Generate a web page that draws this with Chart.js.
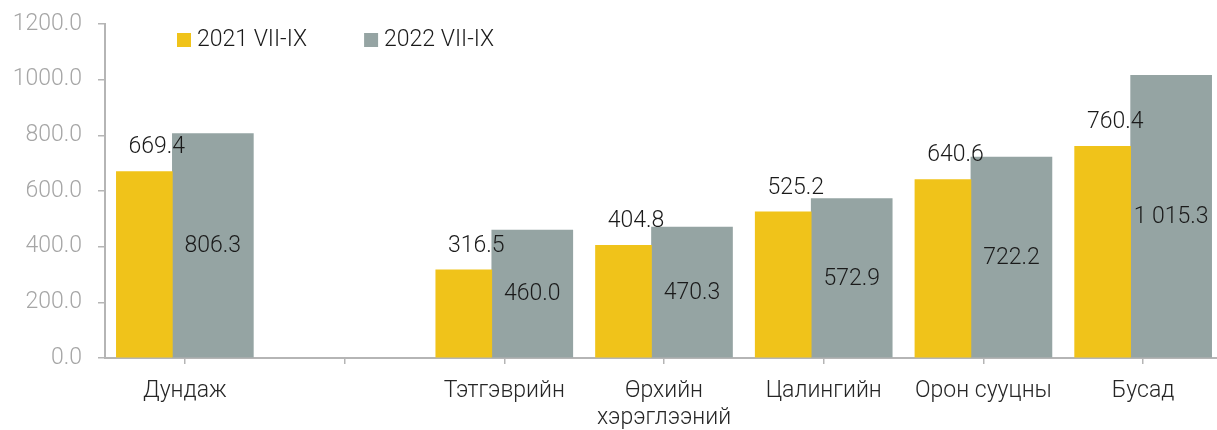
<!DOCTYPE html>
<html>
<head>
<meta charset="utf-8">
<script src="https://cdn.jsdelivr.net/npm/chart.js@4"></script>
<style>
  html, body { margin: 0; padding: 0; background: #fff; overflow: hidden; }
  #wrap { width: 1226px; height: 430px; }
</style>
</head>
<body>
<div id="wrap"><canvas id="myChart" width="1226" height="430"></canvas></div>
<script>
"use strict";
// Data
const categories = ["Дундаж", "", "Тэтгэврийн", ["Өрхийн", "хэрэглээний"], "Цалингийн", "Орон сууцны", "Бусад"];
const seriesNames = ["2021 VII-IX", "2022 VII-IX"];
const values2021 = [669.4, null, 316.5, 404.8, 525.2, 640.6, 760.4];
const values2022 = [806.3, null, 460.0, 470.3, 572.9, 722.2, 1015.3];
const yTicks = [0, 200, 400, 600, 800, 1000, 1200];

const yellow = "#f0c31a";
const grey = "#95a4a3";
const axisColor = "#b5b5b5";
const font = "Roboto, 'Noto Sans', sans-serif";
const textFont = "300 23px " + font;

function fmt(v) {
  const parts = v.toFixed(1).split(".");
  parts[0] = parts[0].replace(/\B(?=(\d{3})+(?!\d))/g, " ");
  return parts.join(".");
}

// put the two bars of a group side by side, centred on the category tick
const groupBars = {
  id: "groupBars",
  afterDatasetsUpdate(chart) {
    const a = chart.getDatasetMeta(0).data;
    const b = chart.getDatasetMeta(1).data;
    const x = chart.scales.x;
    a.forEach(function (el, i) {
      const g = b[i];
      const c = x.getPixelForValue(i);
      const total = el.width + g.width;
      el.x = c - total / 2 + el.width / 2;
      g.x = c - total / 2 + el.width + g.width / 2;
    });
  },
};

const valueLabels = {
  id: "valueLabels",
  afterDatasetsDraw(chart) {
    const ctx = chart.ctx;
    const a = chart.getDatasetMeta(0).data;
    const b = chart.getDatasetMeta(1).data;
    ctx.save();
    ctx.font = textFont;
    ctx.fillStyle = "#1a1a1a";
    ctx.textAlign = "center";
    ctx.textBaseline = "middle";
    a.forEach(function (el, i) {
      if (values2021[i] == null) return;
      const g = b[i];
      ctx.fillText(fmt(values2021[i]), el.x + (g.width - el.width) / 2, el.y - 24);
      ctx.fillText(fmt(values2022[i]), g.x, (g.y + g.base) / 2 + 1);
    });
    ctx.restore();
  },
};

const legendDraw = {
  id: "legendDraw",
  afterDraw(chart) {
    const ctx = chart.ctx;
    ctx.save();
    ctx.font = textFont;
    ctx.textBaseline = "middle";
    let x = 177;
    const y = 40;
    chart.data.datasets.forEach(function (ds) {
      ctx.fillStyle = ds.backgroundColor;
      ctx.fillRect(x, y - 7, 14, 14);
      ctx.fillStyle = "#1a1a1a";
      ctx.textAlign = "left";
      ctx.fillText(ds.label, x + 20, y);
      x += 20 + ctx.measureText(ds.label).width + 57;
    });
    ctx.restore();
  },
};

const ctx = document.getElementById("myChart").getContext("2d");
const myChart = new Chart(ctx, {
  type: "bar",
  data: {
    labels: categories,
    datasets: [
      {
        label: seriesNames[0],
        data: values2021,
        backgroundColor: yellow,
        barThickness: 56,
      },
      {
        label: seriesNames[1],
        data: values2022,
        backgroundColor: grey,
        barThickness: 81,
      },
    ],
  },
  options: {
    responsive: false,
    animation: false,
    layout: { padding: { top: 24, right: 3, left: 0, bottom: 0 } },
    plugins: {
      legend: { display: false },
      tooltip: { enabled: false },
    },
    scales: {
      x: {
        grid: {
          offset: false,
          drawOnChartArea: false,
          drawTicks: true,
          tickLength: 6,
          color: axisColor,
          lineWidth: 1.5,
        },
        border: { display: true, color: axisColor, width: 2 },
        ticks: {
          color: "#262626",
          font: { family: font, size: 23, weight: 300, lineHeight: 1.2 },
          padding: 13,
          maxRotation: 0,
          autoSkip: false,
        },
        afterFit(scale) {
          scale.height = 72;
        },
      },
      y: {
        min: 0,
        max: 1200,
        afterBuildTicks(scale) {
          scale.ticks = yTicks.map((v) => ({ value: v }));
        },
        grid: {
          drawOnChartArea: false,
          drawTicks: true,
          tickLength: 7,
          color: axisColor,
          lineWidth: 1.5,
        },
        border: { display: true, color: axisColor, width: 2 },
        ticks: {
          color: "#a6a6a6",
          font: { family: font, size: 23, weight: 300 },
          padding: 16,
          callback: (v) => v.toFixed(1),
        },
        afterFit(scale) {
          scale.width = 105;
          scale.paddingTop = 10;
          scale.paddingBottom = 10;
        },
      },
    },
  },
  plugins: [groupBars, valueLabels, legendDraw],
});
</script>
</body>
</html>
